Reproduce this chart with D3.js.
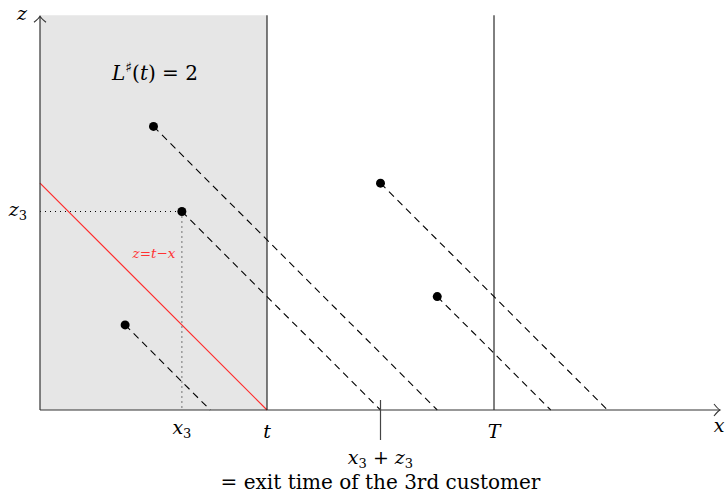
<!DOCTYPE html>
<html>
<head>
<meta charset="utf-8">
<script src="https://cdn.jsdelivr.net/npm/d3@7"></script>
<style>
  body { margin: 0; background: #fff; }
</style>
</head>
<body>
<div id="chart"></div>
<script>
// customers: arrival x, service z
var custX = [2, 2.5, 1.5, 6, 7];
var custZ = [5, 3.5, 1.5, 4, 2];
var tVal = 4, TVal = 8;
var xMax = 12, zMax = 6.96;
var tag = 1; // index of the 3rd customer (x3, z3)

var width = 725, height = 493;
var serif = "'DejaVu Serif', 'Liberation Serif', serif";

var x = d3.scaleLinear().domain([0, xMax]).range([40, 721]);
var z = d3.scaleLinear().domain([0, 7]).range([410, 13]);

var svg = d3.select("#chart").append("svg")
  .attr("width", width)
  .attr("height", height);

// shaded window [0, t]
svg.append("rect")
  .attr("x", x(0)).attr("y", z(zMax))
  .attr("width", x(tVal) - x(0))
  .attr("height", z(0) - z(zMax))
  .attr("fill", "#e6e6e6");

// red line z = t - x
svg.append("line")
  .attr("x1", x(0)).attr("y1", z(tVal))
  .attr("x2", x(tVal)).attr("y2", z(0))
  .attr("stroke", "#ff2a2a").attr("stroke-width", 1.2);

// vertical lines at t and T
[tVal, TVal].forEach(function (v) {
  svg.append("line")
    .attr("x1", x(v)).attr("x2", x(v))
    .attr("y1", z(0)).attr("y2", z(zMax))
    .attr("stroke", "#000").attr("stroke-width", 1);
});

// dashed exit lines
custX.forEach(function (cx, i) {
  svg.append("line")
    .attr("x1", x(cx)).attr("y1", z(custZ[i]))
    .attr("x2", x(cx + custZ[i])).attr("y2", z(0))
    .attr("stroke", "#000").attr("stroke-width", 1.1)
    .attr("stroke-dasharray", "7,5");
});

// dotted guides for (x3, z3)
svg.append("line")
  .attr("x1", x(0)).attr("y1", z(custZ[tag]))
  .attr("x2", x(custX[tag])).attr("y2", z(custZ[tag]))
  .attr("stroke", "#000").attr("stroke-dasharray", "1,4");
svg.append("line")
  .attr("x1", x(custX[tag])).attr("y1", z(custZ[tag]))
  .attr("x2", x(custX[tag])).attr("y2", z(0))
  .attr("stroke", "#000").attr("stroke-dasharray", "1,4");

// points
svg.selectAll(".dot")
  .data(custX)
  .enter().append("circle")
  .attr("class", "dot")
  .attr("cx", function (d) { return x(d); })
  .attr("cy", function (d, i) { return z(custZ[i]); })
  .attr("r", 4.5)
  .attr("fill", "#000");

// axes
svg.append("line")
  .attr("x1", x(0)).attr("y1", z(0)).attr("x2", x(xMax) - 1).attr("y2", z(0))
  .attr("stroke", "#333").attr("stroke-width", 1.2);
svg.append("line")
  .attr("x1", x(0)).attr("y1", z(0)).attr("x2", x(0)).attr("y2", z(zMax) + 1)
  .attr("stroke", "#333").attr("stroke-width", 1.2);
// arrow heads
var ax = x(xMax) - 1, ay = z(0);
svg.append("path")
  .attr("d", "M" + (ax - 6) + "," + (ay - 6) + " Q" + (ax - 2) + "," + (ay - 1) + " " + ax + "," + ay +
    " Q" + (ax - 2) + "," + (ay + 1) + " " + (ax - 6) + "," + (ay + 6))
  .attr("fill", "none").attr("stroke", "#333").attr("stroke-width", 1.1);
var bx = x(0), by = z(zMax) + 1;
svg.append("path")
  .attr("d", "M" + (bx - 6) + "," + (by + 6) + " Q" + (bx - 1) + "," + (by + 2) + " " + bx + "," + by +
    " Q" + (bx + 1) + "," + (by + 2) + " " + (bx + 6) + "," + (by + 6))
  .attr("fill", "none").attr("stroke", "#333").attr("stroke-width", 1.1);

// tick at x3 + z3
var exitX = custX[tag] + custZ[tag];
svg.append("line")
  .attr("x1", x(exitX)).attr("x2", x(exitX))
  .attr("y1", z(0) - 10).attr("y2", z(0) + 30)
  .attr("stroke", "#444").attr("stroke-width", 1.2);

// labels
function label(px, py, build, italic, size, fill) {
  var t = svg.append("text")
    .attr("x", px).attr("y", py)
    .attr("font-family", serif)
    .attr("font-style", italic ? "italic" : "normal")
    .attr("font-size", size)
    .attr("text-anchor", "middle")
    .attr("fill", fill || "#000");
  build(t);
  return t;
}
function sub(t, s) {
  t.append("tspan").attr("font-style", "normal").attr("font-size", 13).attr("dy", 4).text(s);
}

label(22, 20, function (t) { t.text("z"); }, true, 19);
label(719, 432, function (t) { t.text("x"); }, true, 19);

label(x(custX[tag]), 434, function (t) {
  t.append("tspan").text("x"); sub(t, "3");
}, true, 19);
label(x(tVal), 438, function (t) { t.text("t"); }, true, 19);
label(x(TVal), 438, function (t) { t.text("T"); }, true, 19);

label(18, 216, function (t) {
  t.append("tspan").text("z"); sub(t, "3");
}, true, 19);

label(x(exitX), 464, function (t) {
  t.append("tspan").text("x"); sub(t, "3");
  t.append("tspan").attr("font-style", "normal").attr("dy", -4).text(" + ");
  t.append("tspan").text("z"); sub(t, "3");
}, true, 19);
label(x(exitX), 489, function (t) { t.text("= exit time of the 3rd customer"); }, false, 20);

label(155, 80, function (t) {
  t.append("tspan").text("L");
  t.append("tspan").attr("font-style", "normal").attr("font-size", 14).attr("dy", -8).text("\u266F");
  t.append("tspan").attr("font-style", "normal").attr("dy", 8).text("(");
  t.append("tspan").text("t");
  t.append("tspan").attr("font-style", "normal").text(") = 2");
}, true, 20);

label(154, 258, function (t) { t.text("z=t\u2212x"); }, true, 13.5, "#ff3333");
</script>
</body>
</html>
